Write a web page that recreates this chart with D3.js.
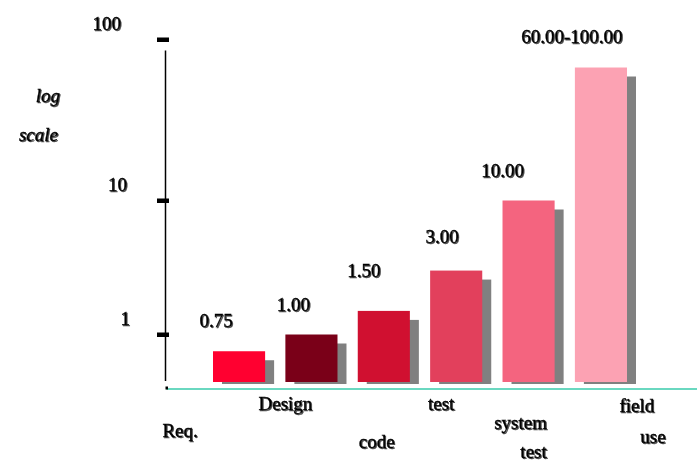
<!DOCTYPE html>
<html>
<head>
<meta charset="utf-8">
<script src="https://cdn.jsdelivr.net/npm/d3@7"></script>
<style>
  body { margin: 0; background: #fff; }
  svg text { font-family: "Liberation Serif", "Times New Roman", serif; fill: #000; stroke: #000; stroke-width: 0.35px; }
</style>
</head>
<body>
<div id="chart"></div>
<script>
// data
const phases = ["Req.", "Design", "code", "test", "system test", "field use"];
const costs = [0.75, 1.00, 1.50, 3.00, 10.00, 67];
const costLabels = ["0.75", "1.00", "1.50", "3.00", "10.00", "60.00-100.00"];
const barColors = ["#ff0030", "#7a0018", "#d01030", "#e2405c", "#f4647f", "#fca2b3"];
const tickValues = [1, 10, 100];
const tickLabels = ["1", "10", "100"];

// layout only (label offsets, lines of the category names)
const valueOffsets = [[-23, -24], [-18, -24], [-20, -34], [-14, -28], [-26, -24], [-29, -25]];
const phaseLines = [
  [{t: "Req.", dx: -59, y: 437}],
  [{t: "Design", dx: -26, y: 410}],
  [{t: "code", dx: -7, y: 448}],
  [{t: "test", dx: -15, y: 410}],
  [{t: "system", dx: -8, y: 429}, {t: "test", dx: 5, y: 458}],
  [{t: "field", dx: 36, y: 412}, {t: "use", dx: 52, y: 443}]
];

const width = 697, height = 462;
const axisX = 165.5;
const barBottom = 382;
const baseY = 389;

const svg = d3.select("#chart").append("svg")
    .attr("width", width)
    .attr("height", height);

const defs = svg.append("defs");
defs.append("filter").attr("id", "tshadow")
    .attr("x", "-10%").attr("y", "-20%").attr("width", "130%").attr("height", "150%")
  .append("feDropShadow")
    .attr("dx", 1).attr("dy", 1)
    .attr("stdDeviation", 0.6)
    .attr("flood-color", "#333")
    .attr("flood-opacity", 0.9);

// scales
const xScale = d3.scaleBand()
    .domain(phases)
    .range([213, 627])
    .paddingInner(0.28)
    .paddingOuter(0);

const yScale = d3.scaleLog()
    .domain(tickValues)
    .range([334.5, 200.5, 39.5]);

// baseline
svg.append("line")
    .attr("x1", axisX + 1).attr("x2", width)
    .attr("y1", baseY).attr("y2", baseY)
    .attr("stroke", "#6ad8c0")
    .attr("stroke-width", 2);

// vertical axis
svg.append("line")
    .attr("x1", axisX).attr("x2", axisX)
    .attr("y1", yScale(100) + 11).attr("y2", barBottom - 1)
    .attr("stroke", "#000")
    .attr("stroke-width", 1.5);
svg.append("rect")
    .attr("x", axisX).attr("y", baseY - 2.5)
    .attr("width", 2.5).attr("height", 3)
    .attr("fill", "#000");

svg.selectAll(".tick-mark")
    .data(tickValues)
    .enter().append("rect")
    .attr("class", "tick-mark")
    .attr("x", axisX - 8.5)
    .attr("y", d => yScale(d) - 2)
    .attr("width", 12)
    .attr("height", 4.5)
    .attr("fill", "#000");

svg.selectAll(".tick-label")
    .data(tickValues)
    .enter().append("text")
    .attr("class", "tick-label")
    .attr("x", (d, i) => [130, 127, 121][i])
    .attr("y", d => yScale(d) - 10)
    .attr("text-anchor", "end")
    .attr("filter", "url(#tshadow)")
    .style("font-size", "19px")
    .text((d, i) => tickLabels[i]);

// "log scale"
svg.append("text")
    .attr("x", 60).attr("y", 102)
    .attr("text-anchor", "end")
    .attr("filter", "url(#tshadow)")
    .style("font-size", "19px")
    .style("font-style", "italic")
    .text("log");
svg.append("text")
    .attr("x", 58).attr("y", 141)
    .attr("text-anchor", "end")
    .attr("filter", "url(#tshadow)")
    .style("font-size", "19px")
    .style("font-style", "italic")
    .text("scale");

// bar shadows
svg.selectAll(".shadow")
    .data(costs)
    .enter().append("rect")
    .attr("class", "shadow")
    .attr("x", (d, i) => xScale(phases[i]) + 9)
    .attr("y", d => yScale(d) + 9)
    .attr("width", xScale.bandwidth())
    .attr("height", d => barBottom + 2 - yScale(d) - 9)
    .attr("fill", "#808080");

// bars
svg.selectAll(".bar")
    .data(costs)
    .enter().append("rect")
    .attr("class", "bar")
    .attr("x", (d, i) => xScale(phases[i]))
    .attr("y", d => yScale(d))
    .attr("width", xScale.bandwidth())
    .attr("height", d => barBottom - yScale(d))
    .attr("fill", (d, i) => barColors[i]);

// value labels
svg.selectAll(".value")
    .data(costs)
    .enter().append("text")
    .attr("class", "value")
    .attr("x", (d, i) => xScale(phases[i]) + xScale.bandwidth() / 2 + valueOffsets[i][0])
    .attr("y", (d, i) => yScale(d) + valueOffsets[i][1])
    .attr("text-anchor", "middle")
    .attr("filter", "url(#tshadow)")
    .style("font-size", "19px")
    .text((d, i) => costLabels[i]);

// category labels
phases.forEach(function(p, i) {
    const cx = xScale(p) + xScale.bandwidth() / 2;
    phaseLines[i].forEach(function(l) {
        svg.append("text")
            .attr("x", cx + l.dx)
            .attr("y", l.y)
            .attr("text-anchor", "middle")
            .attr("filter", "url(#tshadow)")
            .style("font-size", "19px")
            .text(l.t);
    });
});
</script>
</body>
</html>
